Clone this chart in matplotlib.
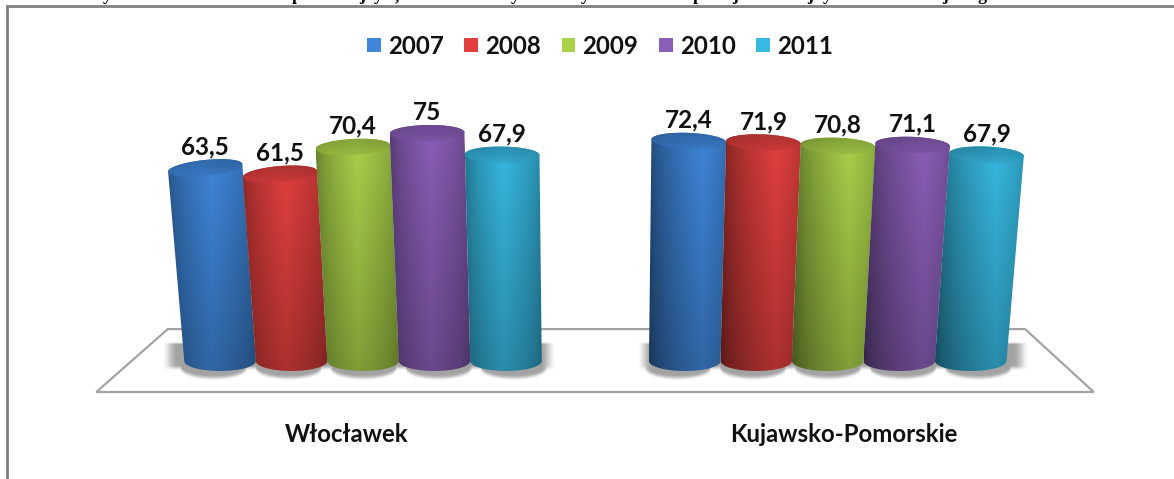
import numpy as np
import matplotlib
matplotlib.use("Agg")
import matplotlib.pyplot as plt
from matplotlib.patches import Polygon, Patch, PathPatch
from matplotlib.path import Path
from matplotlib.colors import to_rgb

categories = ["Włocławek", "Kujawsko-Pomorskie"]
years = ["2007", "2008", "2009", "2010", "2011"]
wloclawek = [63.5, 61.5, 70.4, 75, 67.9]
kujawsko = [72.4, 71.9, 70.8, 71.1, 67.9]
value_labels = [["63,5", "61,5", "70,4", "75", "67,9"],
                ["72,4", "71,9", "70,8", "71,1", "67,9"]]
colors = ["#3f86da", "#e2403e", "#a9d24a", "#8a5fb8", "#37b9e2"]
series_by_group = [wloclawek, kujawsko]

W, H = 1174, 479
PX_X, PX_Y = 71.5, 3.04          # pixels per slot, pixels per value unit
X0, Y0 = 363, 361                # pixel of slot 0, pixel of value 0
GROUP_STEP = 6.5
VP = 3.25                        # perspective centre (slots)
K = 0.00062
HALF = 0.5
CAP_BASE = 10 / PX_Y
CAP_TOP = 8 / PX_Y

fig = plt.figure(figsize=(W / 100, H / 100), dpi=100, facecolor="white")
ax = fig.add_axes([0, 0, 1, 1])
ax.axis("off")
xlim = (-X0 / PX_X, (W - X0) / PX_X)
ylim = ((Y0 - H) / PX_Y, Y0 / PX_Y)
FONT = ["Lato", "DejaVu Sans"]
shade = [(0.5, 0.62, 0.70), (0.68, 0.50, 0.80)]


def persp(x, v):
    return VP + (x - VP) * (1 + K * v)


def profile(n, peak, lmin, rmin):
    u = np.linspace(0, 1, n)
    left = lmin + (1 - lmin) * np.clip(u / peak, 0, 1) ** 0.6
    right = rmin + (1 - rmin) * np.clip((1 - u) / (1 - peak), 0, 1) ** 0.6
    return np.minimum(left, right)


def soft(t):
    t = np.clip(t, 0, 1)
    return t ** 2 * (3 - 2 * t)


# floor
floor_x = np.array([-3.73, 10.22, 9.26, -2.73])
floor_y = np.array([-10.2, -10.2, 10.5, 10.5])
ax.add_patch(Polygon(np.c_[floor_x, floor_y], closed=True, fc="white",
                     ec="#a3a3a3", lw=1.6, zorder=1))

# soft shadows beneath each group
pads = [(0.33, 0.2), (0.18, 0.32)]
for g in range(2):
    centres = g * GROUP_STEP + np.arange(5) - 2
    xl, xr = centres[0] - HALF - pads[g][0], centres[-1] + HALF + pads[g][1]
    gx = np.linspace(xl - 0.1, xr + 0.1, 400)
    gy = np.linspace(-9, 8, 160)
    XX, YY = np.meshgrid(gx, gy)
    lobes = np.full_like(XX, -3.4)
    for c in centres:
        cs = g * GROUP_STEP + (c - g * GROUP_STEP) * 1.05
        d = np.clip(1 - ((XX - cs) / 0.46) ** 2, 0, 1)
        lobes = np.minimum(lobes, -3.4 - 3.3 * np.sqrt(d))
    a = (soft((YY - lobes) / 2.0) * soft((6.2 - YY) / 1.0)
         * soft((XX - xl) / 0.22) * soft((xr - XX) / 0.22))
    rgba = np.ones(XX.shape + (4,)) * np.array([0.6, 0.6, 0.6, 1])
    rgba[..., 3] = a * 0.9
    ax.imshow(rgba, extent=(gx[0], gx[-1], gy[0], gy[-1]), origin="lower",
              aspect="auto", zorder=2, interpolation="bilinear")

# cylinders
t_low = np.linspace(np.pi, 2 * np.pi, 50)
t_all = np.linspace(0, 2 * np.pi, 100)
for g, values in enumerate(series_by_group):
    for i, v in enumerate(values):
        x = g * GROUP_STEP + i - 2
        z = 3 + g * 10 + i
        rgb = np.array(to_rgb(colors[i]))
        cb, ct = x, persp(x, v)
        ab, at = HALF, HALF * (1 + K * v)
        slope_px = np.clip((ct - 1.5) * 0.0307, -0.10, 0.04)
        tilt = -slope_px * PX_X / PX_Y
        bot = np.c_[cb + ab * np.cos(t_low), CAP_BASE * np.sin(t_low)]
        top = np.c_[ct + at * np.cos(t_all[:50]),
                    v + CAP_TOP * np.sin(t_all[:50]) + tilt * at * np.cos(t_all[:50])]
        verts = np.vstack([bot, top, bot[:1]])
        x_min, x_max = min(cb - ab, ct - at), max(cb + ab, ct + at)
        n, m = 80, 40
        px = profile(n, *shade[g])
        vert = np.linspace(0.76, 1.0, m)
        img = np.clip(rgb[None, None, :] * px[None, :, None] * vert[:, None, None], 0, 1)
        im = ax.imshow(img, extent=(x_min, x_max, -CAP_BASE, v + 2 * CAP_TOP), origin="lower",
                       aspect="auto", zorder=z, interpolation="bilinear")
        clip = PathPatch(Path(verts), transform=ax.transData, fc="none", ec="none")
        ax.add_patch(clip)
        im.set_clip_path(clip)
        # top cap
        cap = np.c_[ct + at * np.cos(t_all),
                    v + CAP_TOP * np.sin(t_all) + tilt * at * np.cos(t_all)]
        cimg = np.clip(rgb[None, None, :] * (0.68 + 0.2 * px[None, :, None])
                       * np.linspace(1.08, 0.82, m)[:, None, None], 0, 1)
        cim = ax.imshow(cimg, extent=(ct - at, ct + at, v - 2 * CAP_TOP, v + 2 * CAP_TOP),
                        origin="lower", aspect="auto", zorder=z + 0.1,
                        interpolation="bilinear")
        cclip = PathPatch(Path(cap), transform=ax.transData, fc="none", ec="none")
        ax.add_patch(cclip)
        cim.set_clip_path(cclip)
        # value label
        ax.text(ct, v + 6.9, value_labels[g][i], ha="center", va="center",
                fontsize=17.5, fontweight="bold", color="#111111", family=FONT, zorder=40)
    # category label
    ax.text(persp(g * GROUP_STEP, 112), (Y0 - 435) / PX_Y, categories[g], ha="center",
            va="center", fontsize=17.3, fontweight="bold", color="#111111", family=FONT)

# legend
handles = [Patch(facecolor=c, edgecolor="none", label=y) for c, y in zip(colors, years)]
fig.legend(handles=handles, loc="center", bbox_to_anchor=(600 / W, 1 - 46 / H), ncols=5,
           frameon=False, handlelength=0.58, handleheight=0.58, handletextpad=0.29,
           columnspacing=0.86, borderpad=0, prop={"family": FONT, "size": 17.3, "weight": "bold"})
for t in fig.legends[0].get_texts():
    t.set_color("#111111")

ax.set_xlim(*xlim)
ax.set_ylim(*ylim)

# frame of the pasted picture
ax.plot([7 / W, 7 / W, 1], [0, 1 - 5.5 / H, 1 - 5.5 / H], transform=ax.transAxes,
        color="#808080", lw=2, zorder=50, clip_on=False, solid_joinstyle="miter")

# descenders of the cut-off line above the picture
cut_glyphs = list("ypjy,yypjjyjg")
cut_x = [107, 297, 362, 378, 397, 515, 585, 698, 735, 810, 827, 945, 982]
for ch, xp in zip(cut_glyphs, cut_x):
    fig.text(xp / W, 1.0, ch, ha="center", va="baseline", fontsize=13,
             fontweight="bold", family="Liberation Serif", color="black")

fig.savefig("out.png", dpi=100)
